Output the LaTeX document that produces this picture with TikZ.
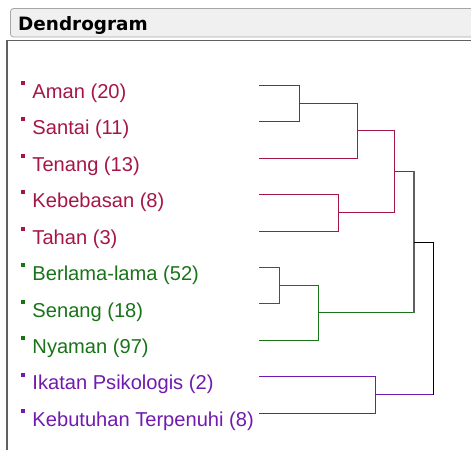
\documentclass[tikz,border=0pt]{standalone}
\usepackage{fontspec}
\setmainfont{Liberation Sans}
\newfontfamily\titlefont{DejaVu Sans}
\definecolor{cred}{RGB}{165,22,70}
\definecolor{cgreen}{RGB}{25,115,25}
\definecolor{cpurple}{RGB}{112,26,176}
\definecolor{ctrunk}{RGB}{96,96,96}
\begin{document}
\begin{tikzpicture}[x=1bp,y=-1bp,
  lbl/.style={anchor=base west,inner sep=0pt,font=\fontsize{20.1bp}{22bp}\selectfont},
  mk/.style={inner sep=0pt,minimum size=4bp,draw=none,rectangle},
  br/.style={line width=1.3bp}]
\useasboundingbox (0,0) rectangle (471,450);
% header
\draw[fill=black!6,draw=black!35,rounded corners=3bp,line width=0.8bp] (10.5,8.5) rectangle (480,37);
\node[anchor=base west,inner sep=0pt,font=\titlefont\bfseries\fontsize{18.4bp}{20bp}\selectfont] (title) at (18,30.7) {Dendrogram};
% panel border
\draw[ctrunk,line width=1.2bp] (480,40.5) -- (7,40.5);
\draw[ctrunk,line width=2bp] (7,39.9) -- (7,451);
% labels
\foreach \i/\t/\c/\yl in {0/Aman (20)/cred/85.5,1/Santai (11)/cred/121.5,2/Tenang (13)/cred/158.5,3/Kebebasan (8)/cred/194.5,4/Tahan (3)/cred/231.5,
  5/Berlama-lama (52)/cgreen/267.5,6/Senang (18)/cgreen/303.5,7/Nyaman (97)/cgreen/340.5,8/Ikatan Psikologis (2)/cpurple/376.5,9/Kebutuhan Terpenuhi (8)/cpurple/413.5}{
  \pgfmathsetmacro{\yb}{98.3+36.45*\i}
  \node[lbl,text=\c] (t\i) at (32.3,\yb) {\t};
  \node[mk,fill=\c] (m\i) at (23,{round(\yb-15.3)}) {};
  \coordinate (L\i) at (259,\yl);
}
% joins
\coordinate (J1) at (299.5,103.5);
\coordinate (J2) at (357.5,130.5);
\coordinate (J3) at (338.5,212.5);
\coordinate (J4) at (394.5,171.5);
\coordinate (J5) at (279.5,285.5);
\coordinate (J6) at (318.5,312.5);
\coordinate (J7) at (375.5,394.5);
\coordinate (J8) at (414,242.5);
\coordinate (J9) at (433.5,394.5);
% red cluster
\draw[br,cred] (L0) -| (J1) |- (L1);
\draw[br,cred] (J1) -| (J2) |- (L2);
\draw[br,cred] (L3) -| (J3) |- (L4);
\draw[br,cred] (J2) -| (J4) |- (J3);
\draw[br,cred] (J4) -- (J4 -| J8);
% green cluster
\draw[br,cgreen] (L5) -| (J5) |- (L6);
\draw[br,cgreen] (J5) -| (J6) |- (L7);
\draw[br,cgreen] (J6) -- (J6 -| J8);
% purple cluster
\draw[br,cpurple] (L8) -| (J7) |- (L9);
\draw[br,cpurple] (J7) -- (J9);
% trunk
\draw[ctrunk,line width=2bp] (J4 -| J8) -- (J6 -| J8);
\draw[black,line width=1.5bp] (J8) -| (J9);
\end{tikzpicture}
\end{document}
